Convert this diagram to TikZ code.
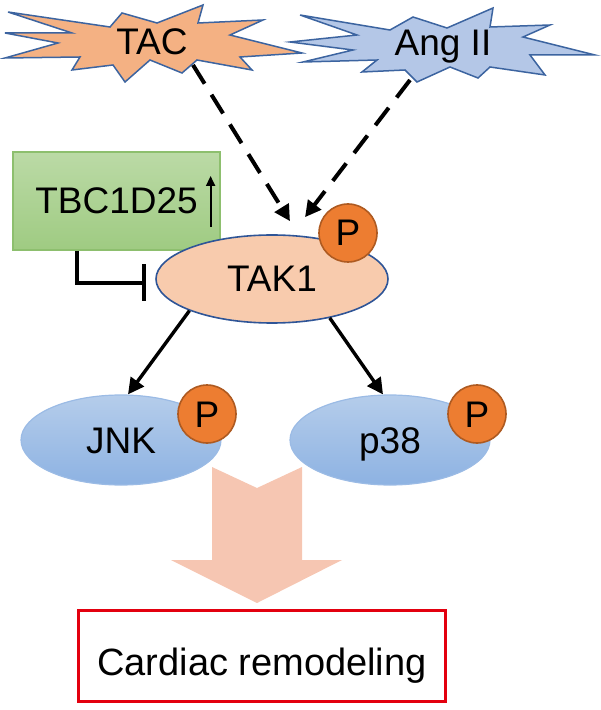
\documentclass[tikz,border=0pt]{standalone}
\usepackage{fontspec}
\setmainfont{Liberation Sans}
\usepackage{tikz}
\usetikzlibrary{arrows,arrows.meta,shapes,positioning}

\definecolor{tacfill}{HTML}{F4B183}
\definecolor{angfill}{HTML}{B4C7E7}
\definecolor{burstline}{HTML}{3C64A0}
\definecolor{takfill}{HTML}{F8CBAD}
\definecolor{takline}{HTML}{2F5597}
\definecolor{phosfill}{HTML}{ED7D31}
\definecolor{phosline}{HTML}{AE5A21}
\definecolor{mapktop}{HTML}{B5CDEB}
\definecolor{mapkbot}{HTML}{8DB2E2}
\definecolor{mapkline}{HTML}{9BBBE5}
\definecolor{tbctop}{HTML}{BBDAA6}
\definecolor{tbcbot}{HTML}{9FCB82}
\definecolor{tbcline}{HTML}{8DBF6E}
\definecolor{blockfill}{HTML}{F6C6B2}
\definecolor{remodred}{HTML}{E3000F}

\begin{document}
\begin{tikzpicture}[x=0.5pt,y=-0.5pt]
	\tikzset{
		lbl/.style={font=\fontsize{18.5}{20}\selectfont,text height=13pt,text depth=0pt,inner sep=0pt},
		burst/.style={draw=burstline,line width=0.75pt,line join=miter},
		mapk/.style={lbl,ellipse,draw=mapkline,line width=0.6pt,top color=mapktop,bottom color=mapkbot,minimum width=100pt,minimum height=45pt},
		phos/.style={lbl,circle,draw=phosline,line width=0.8pt,fill=phosfill,minimum size=29pt},
		>={Triangle[length=8pt,width=8pt]}
	}
	\useasboundingbox (0,0) rectangle (600,710);

	%% stimuli
	\draw[burst,fill=tacfill] (8,12) -- (110,27) -- (122,13) -- (157,23) -- (203,5) -- (198,23)
		-- (263,20) -- (230,35) -- (302,53) -- (240,57) -- (252,70) -- (197,60) -- (182,73)
		-- (150,60) -- (125,82) -- (113,65) -- (72,70) -- (80,57) -- (5,58) -- (58,43)
		-- (5,33) -- (72,33) -- cycle;
	\node[lbl] (tac) at (152,42) {TAC};
	\draw[burst,fill=angfill] (300,15) -- (390,30) -- (413,17) -- (447,28) -- (493,8) -- (490,27)
		-- (550,25) -- (523,37) -- (595,55) -- (530,55) -- (545,75) -- (490,67) -- (478,78)
		-- (450,67) -- (417,82) -- (405,70) -- (362,72) -- (377,60) -- (303,62) -- (353,50)
		-- (290,42) -- (357,35) -- cycle;
	\node[lbl] (ang) at (443,43) {Ang II};
	\coordinate (tacout) at (193,65);
	\coordinate (angout) at (410,80);

	%% TBC1D25
	\node[lbl,draw=tbcline,line width=0.6pt,top color=tbctop,bottom color=tbcbot,minimum width=103.5pt,minimum height=49pt] (tbc) at (116.5,201) {TBC1D25};
	\draw[-{Triangle[length=5pt,width=4.5pt]},line width=1pt] ([xshift=-5pt,yshift=-13pt]tbc.east) -- ([xshift=-5pt,yshift=12.5pt]tbc.east);

	%% TAK1
	\node[lbl,ellipse,draw=takline,line width=0.8pt,fill=takfill,minimum width=116pt,minimum height=44pt] (tak) at (272,279) {TAK1};
	\node[phos] (ptak) at (348,233) {P};

	%% MAPKs
	\node[mapk] (jnk) at (121,440) {JNK};
	\node[phos] (pjnk) at (207,414) {P};
	\node[mapk] (p38) at (390,440) {p38};
	\node[phos] (pp38) at (477,414) {P};

	%% outcome
	\fill[blockfill] (212,467) -- (257,488) -- (302,467) -- (302,560) -- (342,560) -- (257,603)
		-- (171,560) -- (212,560) -- cycle;
	\node[lbl,draw=remodred,line width=1.5pt,minimum width=183.5pt,minimum height=45.5pt,font=\fontsize{19}{21}\selectfont,text height=19pt] (remod) at (262,656) {Cardiac remodeling};

	%% signalling
	\path[->,line width=2pt,dash pattern=on 11pt off 6.5pt]
		(tacout) edge ([xshift=9pt,yshift=6.5pt]tak.north)
		(angout) edge ([xshift=16.5pt,yshift=8.5pt]tak.north);
	\path[->,line width=1.7pt]
		(tak.-159) edge ([xshift=3.5pt]jnk.north)
		(tak.-34) edge ([xshift=-3.5pt]p38.north);
	\draw[-{Bar[width=18.5pt]},line width=2pt,line join=miter] ([xshift=-19.75pt]tbc.south) |- ([xshift=-4.5pt,yshift=-2pt]tak.west);
\end{tikzpicture}
\end{document}
